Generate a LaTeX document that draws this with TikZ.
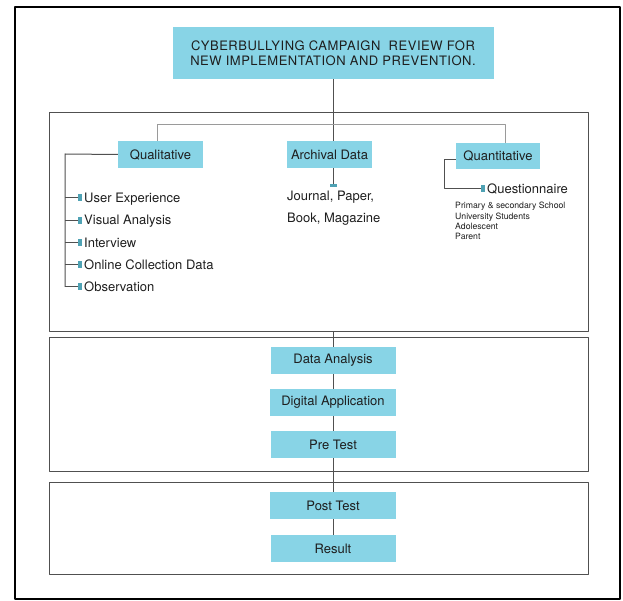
\documentclass[tikz,border=0pt]{standalone}
\usepackage{fontspec}
\setmainfont{TeX Gyre Heros}
\definecolor{boxblue}{HTML}{88D4E6}
\definecolor{tickblue}{HTML}{4FA2B4}
\definecolor{linegray}{HTML}{505050}
\definecolor{bargray}{HTML}{9A9A9A}
\definecolor{textdark}{HTML}{1E1E1E}
\tikzset{
  stepbox/.style={fill=boxblue, text=textdark, inner sep=0pt, minimum height=27pt, font=\fontsize{13}{15}\selectfont},
  item/.style={anchor=west, inner sep=2pt, text height=9.3pt, text depth=0pt, text=textdark, font=\fontsize{13}{15}\selectfont},
  conn/.style={draw=linegray, line width=1pt},
  barline/.style={draw=bargray, line width=1pt},
  panel/.style={draw=linegray, line width=0.9pt},
}
\begin{document}
\begin{tikzpicture}[x=1pt,y=-1pt,line join=round]
	\useasboundingbox (0,0) rectangle (623,601);
	
	% frame and panels
	\draw[line width=2.5pt] (15,7) rectangle (620,599);
	\draw[panel] (49,112) rectangle (588,331);
	\draw[panel] (49,337) rectangle (588,471);
	\draw[panel] (49,482) rectangle (588,574);
	
	\coordinate (barL) at (157,125);
	\coordinate (barR) at (505,125);
	\coordinate (qtrunk) at (65,154);
	\coordinate (ntrunk) at (444,160);
	\coordinate (amark) at (333,184);
	\coordinate (p1bot) at (333,331);
	
	\node[stepbox, minimum width=321pt, minimum height=52pt, align=center,
	  font=\fontsize{13}{15}\selectfont\addfontfeature{LetterSpace=4}] (title) at (333,53)
	  {CYBERBULLYING CAMPAIGN\ \ REVIEW FOR\\NEW IMPLEMENTATION AND PREVENTION.};
	
	\node[stepbox, minimum width=85pt] (qual) at (160.5,154.5) {Qualitative};
	\node[stepbox, minimum width=85pt] (arch) at (329.5,154.5) {Archival Data};
	\node[stepbox, minimum width=84pt, minimum height=26pt] (quant) at (498,156) {Quantitative};
	
	\node[stepbox, minimum width=125pt] (anal) at (333,360.5) {Data Analysis};
	\node[stepbox, minimum width=126pt] (app) at (333,402.5) {Digital Application};
	\node[stepbox, minimum width=125pt] (pre) at (333,444.5) {Pre Test};
	\node[stepbox, minimum width=126pt] (post) at (333,505.5) {Post Test};
	\node[stepbox, minimum width=125pt] (res) at (333,548.5) {Result};
	
	% spine
	\draw[conn] (title.south) -- (title.south |- arch.north);
	\draw[conn] (title.south |- arch.south) -- (amark);
	\draw[conn] (p1bot) -- (anal.north);
	\draw[conn] (anal.south) -- (app.north);
	\draw[conn] (app.south) -- (pre.north);
	\draw[conn] (pre.south) -- (post.north);
	\draw[conn] (post.south) -- (res.north);
	
	\draw[barline] (qual.north -| barL) -- (barL) -- (barR) -- (barR |- quant.north);
	
	% qualitative list
	\foreach \txt [count=\i] in {User Experience, Visual Analysis, Interview, Online Collection Data, Observation}
	  \node[item] (q\i) at (82,175.75+22.25*\i) {\txt};
	\draw[conn] (qual.west) -- (qtrunk) -- (qtrunk |- q5.west);
	\foreach \i in {1,...,5}{
	  \draw[conn] (qtrunk |- q\i.west) -- (q\i.west);
	  \fill[tickblue] ([shift={(-4,-3.5)}]q\i.west) rectangle ++(4,7);
	}
	
	% archival
	\fill[tickblue] ([shift={(-3.5,0)}]amark) rectangle ++(7,3.5);
	\node[anchor=north west, align=left, inner sep=0pt, text=textdark,
	  font=\fontsize{13}{22}\selectfont] (archtxt) at (287,191) {Journal, Paper,\\Book, Magazine};
	
	% quantitative
	\node[item] (qn) at (485,189) {Questionnaire};
	\draw[conn] ([yshift=-4pt]quant.west) -- (ntrunk) |- (qn.west);
	\fill[tickblue] ([shift={(-4,-3.5)}]qn.west) rectangle ++(4,7);
	\node[anchor=north west, align=left, inner sep=0pt, text=textdark,
	  font=\fontsize{8.7}{10.4}\selectfont] (groups) at (455,202)
	  {Primary \& secondary School\\University Students\\Adolescent\\Parent};
\end{tikzpicture}
\end{document}
